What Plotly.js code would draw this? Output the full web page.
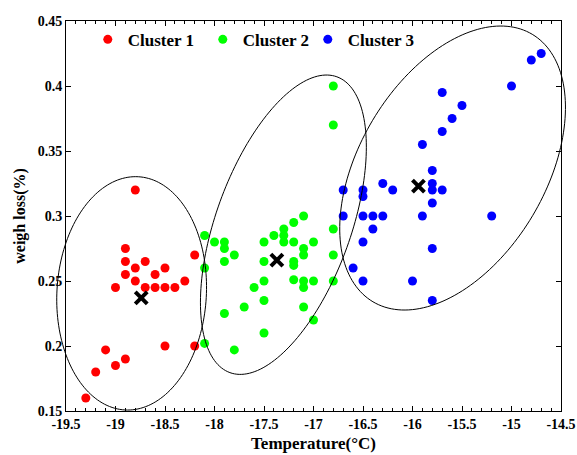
<!DOCTYPE html>
<html>
<head>
<meta charset="utf-8">
<script src="https://cdn.plot.ly/plotly-3.0.1.min.js"></script>
<style>html,body{margin:0;padding:0;background:#fff;}#chart{width:577px;height:455px;}</style>
</head>
<body>
<div id="chart"></div>
<script>
// ---- Data ----
const clusterNames = ['Cluster 1', 'Cluster 2', 'Cluster 3'];

const c1X = [-18.8,-18.9,-18.9,-18.7,-18.8,-18.9,-18.6,-18.5,-18.8,-18.3,-18.2,-19.0,-18.7,-18.6,-18.5,-18.4,-18.5,-18.2,-19.1,-18.9,-19.0,-19.2,-19.3];
const c1Y = [0.32,0.275,0.265,0.265,0.26,0.255,0.255,0.26,0.25,0.25,0.27,0.245,0.245,0.245,0.245,0.245,0.2,0.2,0.197,0.19,0.185,0.18,0.16];

const c2X = [-16.8,-16.8,-17.1,-17.2,-17.3,-17.3,-17.3,-17.4,-17.2,-17.0,-17.5,-17.9,-18.0,-17.9,-18.1,-17.8,-17.9,-18.1,-17.5,-17.1,-17.1,-17.2,-17.2,-16.8,-16.8,-16.8,-17.0,-17.1,-17.1,-17.2,-17.5,-17.6,-17.5,-17.7,-17.9,-17.1,-17.0,-17.5,-17.8,-18.1];
const c2Y = [0.40,0.37,0.30,0.295,0.29,0.285,0.28,0.285,0.28,0.28,0.28,0.28,0.28,0.275,0.285,0.27,0.265,0.26,0.265,0.275,0.27,0.265,0.262,0.29,0.27,0.25,0.25,0.25,0.245,0.251,0.25,0.245,0.235,0.23,0.225,0.23,0.22,0.21,0.197,0.202];

const c3X = [-14.7,-14.8,-15.0,-15.7,-15.5,-15.6,-15.7,-15.9,-15.8,-15.8,-15.8,-15.7,-16.3,-16.2,-16.5,-16.5,-16.7,-15.8,-16.7,-16.5,-16.4,-16.3,-15.9,-15.2,-16.4,-16.5,-15.8,-16.6,-16.5,-16.0,-15.8];
const c3Y = [0.425,0.42,0.40,0.395,0.385,0.375,0.365,0.355,0.335,0.325,0.32,0.32,0.325,0.32,0.32,0.315,0.32,0.31,0.30,0.30,0.30,0.30,0.30,0.30,0.29,0.28,0.275,0.26,0.25,0.25,0.235];

const centroidX = [-18.74, -17.37, -15.94];
const centroidY = [0.237, 0.266, 0.323];

const xTickVals = [-19.5,-19,-18.5,-18,-17.5,-17,-16.5,-16,-15.5,-15,-14.5];
const xTickText = ['-19.5','-19','-18.5','-18','-17.5','-17','-16.5','-16','-15.5','-15','-14.5'];

// Ellipse centres (data units)
const ellCX = [-18.837, -17.304, -15.595];
const ellCY = [0.2405, 0.2933, 0.3369];

// ---- Layout / style ----
const X_RANGE = [-19.5, -14.5];
const Y_RANGE = [0.15, 0.45];
const W = 577, H = 455;
const M = {l: 66, r: 15.5, t: 21, b: 44};
// ellipse semi-axes (px) and tilt (deg, screen) - styling of the outlines
const ellA = [116.8, 157.3, 155.7];
const ellB = [74.8, 67.5, 93.2];
const ellPhi = [86.7, 70.1, 59.2];

const colors = ['#ff0000', '#00ff00', '#0000ff'];
const FONT = 'Liberation Serif, Times New Roman, serif';

function ellipsePath(cx, cy, a, b, phiDeg) {
  const pw = W - M.l - M.r, ph = H - M.t - M.b;
  const px0 = (cx - X_RANGE[0]) / (X_RANGE[1] - X_RANGE[0]);
  const py0 = (cy - Y_RANGE[0]) / (Y_RANGE[1] - Y_RANGE[0]);
  const phi = phiDeg * Math.PI / 180;
  let d = '';
  const n = 180;
  for (let i = 0; i <= n; i++) {
    const t = 2 * Math.PI * i / n;
    const u = a * Math.cos(t), v = b * Math.sin(t);
    const dx = u * Math.cos(phi) - v * Math.sin(phi);
    const dy = u * Math.sin(phi) + v * Math.cos(phi);
    const px = px0 + dx / pw, py = py0 + dy / ph;
    d += (i === 0 ? 'M' : 'L') + px.toFixed(5) + ',' + py.toFixed(5);
  }
  return d + 'Z';
}

const xs = [c1X, c2X, c3X], ys = [c1Y, c2Y, c3Y];
const legendW = [70, 60, 70];
const traces = clusterNames.map((name, i) => ({
  type: 'scatter', mode: 'markers', name: name,
  x: xs[i], y: ys[i],
  marker: {color: colors[i], size: 9},
  legendwidth: legendW[i],
  hoverinfo: 'skip', cliponaxis: false
}));
traces.push({
  type: 'scatter', mode: 'markers', x: centroidX, y: centroidY,
  marker: {symbol: 'x-thin', size: 12, color: 'black', line: {color: 'black', width: 4}},
  showlegend: false, hoverinfo: 'skip', cliponaxis: false
});

const shapes = ellCX.map((cx, i) => ({
  type: 'path', xref: 'paper', yref: 'paper',
  path: ellipsePath(cx, ellCY[i], ellA[i], ellB[i], ellPhi[i]),
  line: {color: 'black', width: 1}, layer: 'above'
}));

const axisFont = {family: FONT, size: 14, color: 'black', weight: 'bold'};
const layout = {
  width: W, height: H,
  margin: M,
  paper_bgcolor: 'white', plot_bgcolor: 'white',
  showlegend: true,
  legend: {
    orientation: 'h', x: 0.044, y: 0.998, xanchor: 'left', yanchor: 'top',
    font: {family: FONT, size: 17, color: 'black', weight: 'bold'},
    bgcolor: 'rgba(0,0,0,0)', itemclick: false
  },
  xaxis: {
    range: X_RANGE, tickmode: 'array', tickvals: xTickVals, ticktext: xTickText,
    ticks: 'inside', ticklen: 5, tickcolor: 'black', tickwidth: 1,
    showline: true, linecolor: 'black', linewidth: 1, mirror: 'ticks',
    showgrid: false, zeroline: false, tickfont: axisFont,
    minor: {tickmode: 'linear', tick0: -19.5, dtick: 0.1, ticks: 'inside', ticklen: 3, tickcolor: 'black', showgrid: false},
    title: {text: 'Temperature(°C)', font: {family: FONT, size: 17, color: 'black', weight: 'bold'}, standoff: 6}
  },
  yaxis: {
    range: Y_RANGE, dtick: 0.05, tick0: 0.15,
    ticks: 'inside', ticklen: 5, tickcolor: 'black', tickwidth: 1,
    showline: true, linecolor: 'black', linewidth: 1, mirror: 'ticks',
    showgrid: false, zeroline: false, tickfont: axisFont,
    title: {text: 'weigh loss(%)', font: {family: FONT, size: 16, color: 'black', weight: 'bold'}, standoff: 8}
  },
  shapes: shapes
};

Plotly.newPlot('chart', traces, layout, {displayModeBar: false, staticPlot: true});
</script>
</body>
</html>
